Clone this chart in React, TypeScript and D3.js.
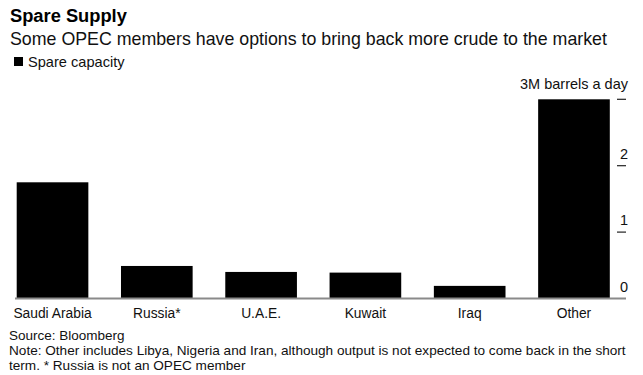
import React from "react";
import * as d3 from "d3";

const categories = ["Saudi Arabia", "Russia*", "U.A.E.", "Kuwait", "Iraq", "Other"];
const spareCapacity = [1.75, 0.49, 0.4, 0.39, 0.19, 3.0];
const yTicks = [0, 1, 2, 3];
const yTickLabels = ["0", "1", "2", "3M barrels a day"];

const title = "Spare Supply";
const subtitle = "Some OPEC members have options to bring back more crude to the market";
const legendLabel = "Spare capacity";
const source = "Source: Bloomberg";
const noteLines = [
  "Note: Other includes Libya, Nigeria and Iran, although output is not expected to come back in the short",
  "term. * Russia is not an OPEC member",
];

const W = 643;
const H = 375;
const FONT = "'Liberation Sans', Arial, Helvetica, sans-serif";

export default function App() {
  const x = d3
    .scaleBand<string>()
    .domain(categories)
    .range([16.7, 609.8])
    .paddingInner(0.313)
    .paddingOuter(0);
  const y = d3.scaleLinear().domain([0, 3]).range([298.5, 99.3]);

  return (
    <svg
      width={W}
      height={H}
      style={{ position: "absolute", left: 0, top: 0, background: "#fff" }}
      fontFamily={FONT}
    >
      <rect width={W} height={H} fill="#fff" />
      <text x={10} y={22} fontSize={18.3} fontWeight="bold" fill="#000">
        {title}
      </text>
      <text x={10} y={45} fontSize={17.8} fill="#111">
        {subtitle}
      </text>
      <rect x={14} y={57} width={9} height={9} fill="#000" />
      <text x={28} y={66.5} fontSize={14.6} fill="#111">
        {legendLabel}
      </text>

      {categories.map((c, i) => (
        <rect
          key={c}
          x={x(c)}
          y={y(spareCapacity[i])}
          width={x.bandwidth()}
          height={y(0) - y(spareCapacity[i])}
          fill="#000"
        />
      ))}

      <line x1={15} x2={626} y1={y(0)} y2={y(0)} stroke="#8a8a8a" strokeWidth={2} />

      {yTicks.map((t, i) => (
        <g key={t}>
          {t !== 0 && (
            <line x1={617} x2={626} y1={y(t)} y2={y(t)} stroke="#222" strokeWidth={1.2} />
          )}
          <text
            x={628}
            y={y(t) - (t === 3 ? 10.5 : 7)}
            fontSize={14.5}
            textAnchor="end"
            fill="#111"
          >
            {yTickLabels[i]}
          </text>
        </g>
      ))}

      {categories.map((c) => (
        <text
          key={c}
          x={(x(c) as number) + x.bandwidth() / 2}
          y={318}
          fontSize={13.8}
          textAnchor="middle"
          fill="#111"
        >
          {c}
        </text>
      ))}

      <text x={9} y={340} fontSize={13.5} fill="#111">
        {source}
      </text>
      {noteLines.map((l, i) => (
        <text key={i} x={9} y={355 + i * 14.5} fontSize={13.6} fill="#111">
          {l}
        </text>
      ))}
    </svg>
  );
}
